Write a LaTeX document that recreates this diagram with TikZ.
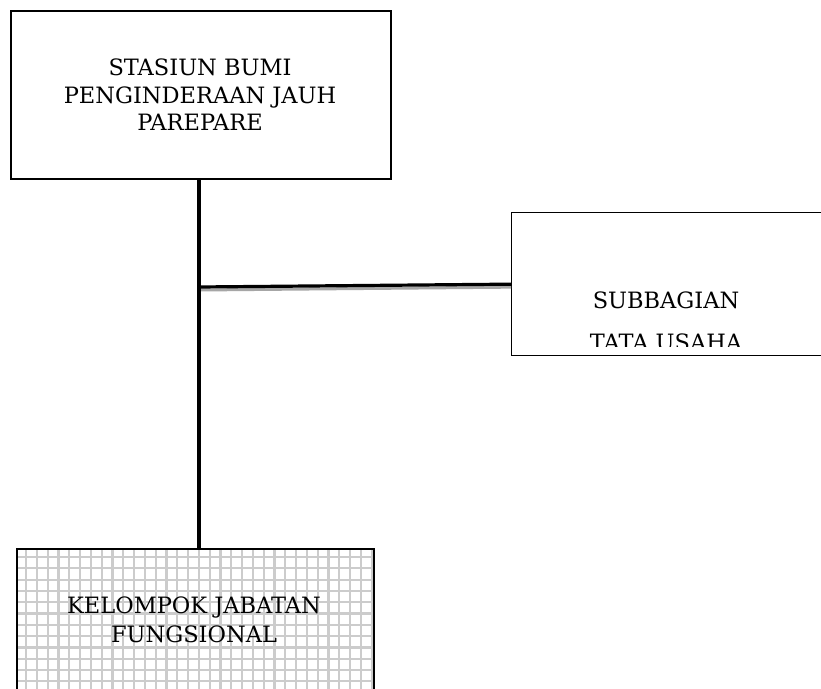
\documentclass[tikz,border=0pt]{standalone}
\usepackage{fontspec}
\setmainfont{DejaVu Serif}
\begin{document}
\begin{tikzpicture}[x=1pt,y=-1pt,
  box/.style={draw=black, line width=1.6pt, inner sep=0pt},
  lbl/.style={align=center, font=\fontsize{22.5}{27.5}\selectfont, inner sep=0pt},
  conn/.style={line width=3.2pt, black},
  connshadow/.style={line width=3pt, gray!70},
  gridline/.style={line width=2.2pt, black!20}
]
\clip (0,0) rectangle (821,688);
\fill[white] (0,0) rectangle (821,688);
% top box
\node[box, anchor=north west, minimum width=380pt, minimum height=168pt] (top) at (10,10) {};
\node[lbl] (toptxt) at (200,95) {STASIUN BUMI\\PENGINDERAAN JAUH\\PAREPARE};
% subbagian box
\node[box, line width=1.3pt, anchor=north west, minimum width=312pt, minimum height=143pt] (sub) at (511,212) {};
\begin{scope}
\clip (511,212) rectangle (821,346.5);
\node[lbl, font=\fontsize{22.5}{42}\selectfont] (subtxt) at (666,321) {SUBBAGIAN\\TATA USAHA};
\end{scope}
% bottom box with grid fill
\node[box, anchor=north west, minimum width=357pt, minimum height=160pt] (kel) at (16,548) {};
\begin{scope}
\clip (kel.south west) rectangle (kel.north east);
\foreach \i in {0,...,33} {\draw[gridline] (26+10.8*\i,540) -- (26+10.8*\i,700);}
\foreach \j in {0,...,14} {\draw[gridline] (10,557+11.3*\j) -- (380,557+11.3*\j);}
\end{scope}
\node[box, anchor=north west, minimum width=357pt, minimum height=160pt] (kelframe) at (16,548) {};
\node[lbl, font=\fontsize{22.5}{29}\selectfont] (keltxt) at (194,620) {KELOMPOK JABATAN\\FUNGSIONAL};
% connectors
\coordinate (j) at (199,287);
\draw[connshadow] ([yshift=-3pt]j) -- ([yshift=-3pt]sub.west);
\draw[conn] (top.south -| j) -- (kel.north -| j);
\draw[conn] (j) -- (sub.west);
\end{tikzpicture}
\end{document}
